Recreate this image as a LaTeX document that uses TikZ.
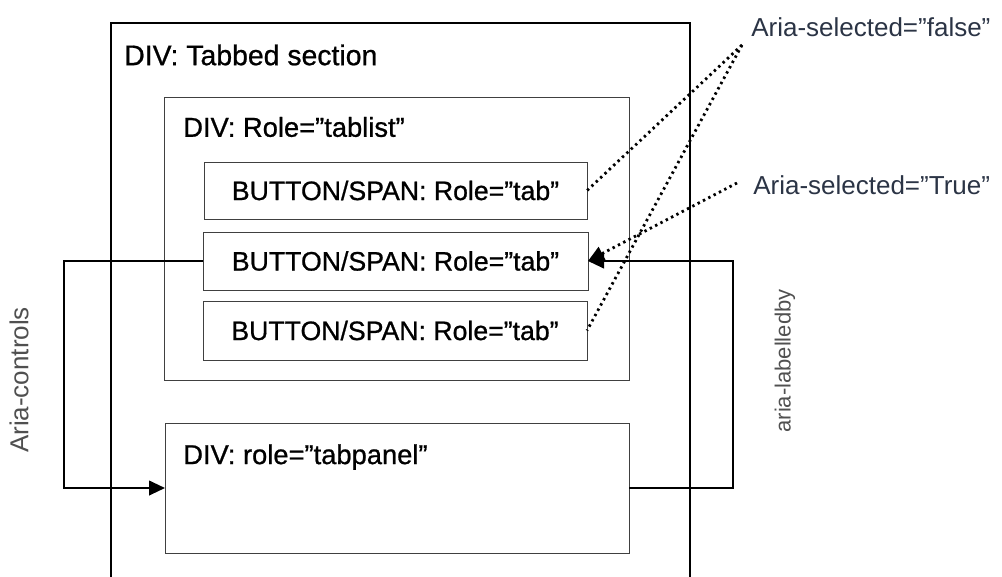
\documentclass[tikz,border=0pt]{standalone}
\usepackage{fontspec}
\setmainfont{Liberation Sans}
\newfontfamily\boxfont[FakeBold=0.8]{Liberation Sans}
\usepackage{xcolor}
\usetikzlibrary{arrows.meta}
\definecolor{notecol}{HTML}{2B3445}
\definecolor{sidecol}{HTML}{505050}

\begin{document}
\begin{tikzpicture}[x=0.75pt,y=-0.75pt,
  box/.style={draw=black!75,line width=0.75pt,inner sep=0,outer sep=0,font=\boxfont\fontsize{20}{24}\selectfont},
  boxtext/.style={anchor=west,font=\boxfont\fontsize{20.5}{24}\selectfont,inner sep=0},
  note/.style={font=\fontsize{19.5}{24}\selectfont,text=notecol,inner sep=0},
  side/.style={font=\fontsize{19.5}{24}\selectfont,text=sidecol,inner sep=0,rotate=90},
  link/.style={line width=1.5pt,-{Triangle[length=12pt,width=11pt]}},
  hint/.style={line width=2.1pt,dash pattern=on 1.8pt off 2.7pt}]
\useasboundingbox (0,0) rectangle (1002,576);
\node[box,draw=black,line width=1.1pt,minimum width=579*0.75pt,minimum height=577*0.75pt] (outer) at (400.5,311.5) {};
\node[boxtext,font=\boxfont\fontsize{21.3}{24}\selectfont] (outertext) at (124,55) {DIV: Tabbed section};
\node[box,minimum width=465*0.75pt,minimum height=283*0.75pt] (tablist) at (396.5,238.5) {};
\node[boxtext] (tablisttext) at (183,127) {DIV: Role=”tablist”};
\node[box,minimum width=383*0.75pt,minimum height=57*0.75pt] (btn1) at (395.5,190.5) {BUTTON/SPAN: Role=”tab”};
\node[box,minimum width=385*0.75pt,minimum height=58*0.75pt] (btn2) at (395.5,261) {BUTTON/SPAN: Role=”tab”};
\node[box,minimum width=384*0.75pt,minimum height=59*0.75pt] (btn3) at (395,330.5) {BUTTON/SPAN: Role=”tab”};
\node[box,minimum width=464*0.75pt,minimum height=130*0.75pt] (panel) at (397,488) {};
\node[boxtext] (paneltext) at (183,457) {DIV: role=”tabpanel”};
\node[note,anchor=west] (selfalse) at (751,27) {Aria-selected=”false”};
\node[note,anchor=west] (seltrue) at (753,185) {Aria-selected=”True”};
\node[side] (controls) at (19,380) {Aria-controls};
\node[side,font=\fontsize{16.5}{20}\selectfont] (labelledby) at (785,361) {aria-labelledby};
\coordinate (ctrl) at (64,0);
\coordinate (lblby) at (733,0);
\coordinate (falsept) at (742,45);
\coordinate (truept) at (737,183);
\draw[link] (btn2.west) -- (ctrl |- btn2.west) |- (panel.west);
\draw[link] (panel.east) -- (lblby |- panel.east) |- (btn2.east);
\draw[hint] (falsept) -- (btn1.east);
\draw[hint] (falsept) -- (btn3.east);
\draw[hint,-{Triangle[length=12pt,width=11pt]}] (truept) -- (btn2.east);
\end{tikzpicture}
\end{document}
